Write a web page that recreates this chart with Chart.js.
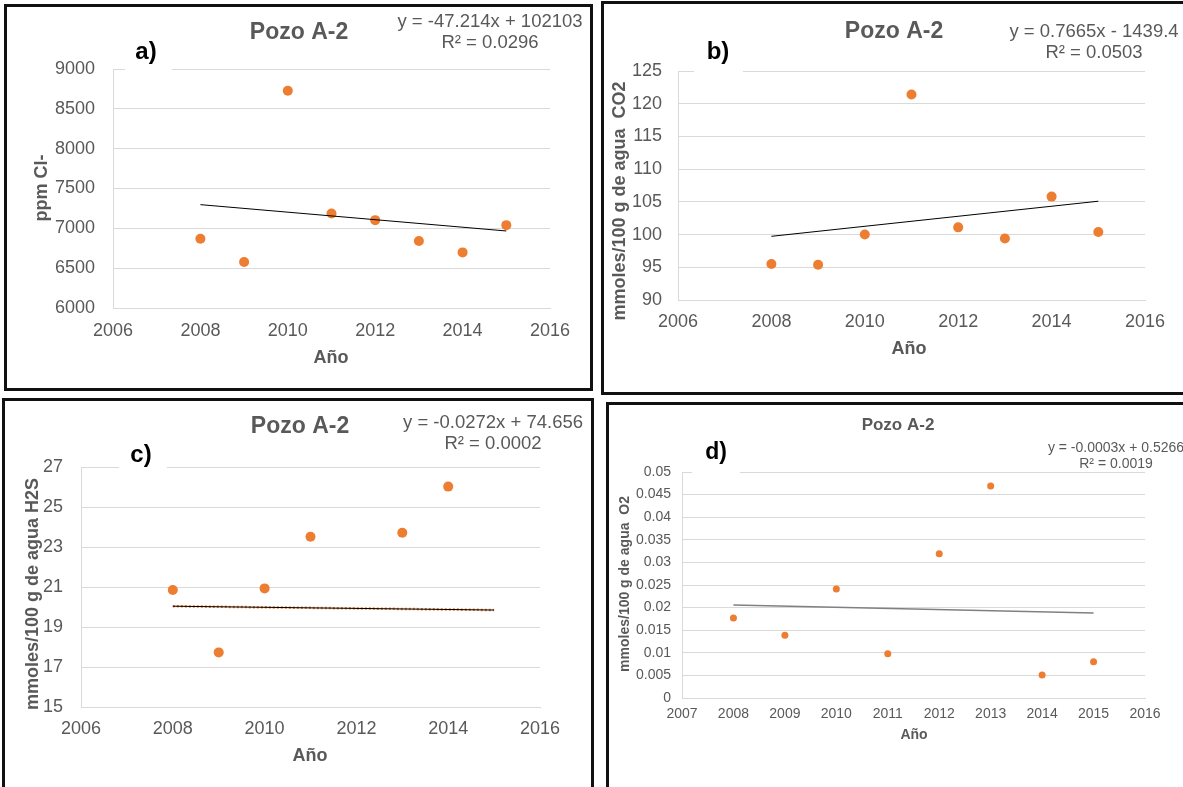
<!DOCTYPE html>
<html>
<head>
<meta charset="utf-8">
<script src="https://cdn.jsdelivr.net/npm/chart.js@4.4.1/dist/chart.umd.min.js"></script>
<style>
  html, body { margin: 0; padding: 0; background: #fff; }
  body { width: 1183px; height: 787px; position: relative; overflow: hidden; }
  .frame { position: absolute; border: 3px solid #111; }
  canvas { position: absolute; }
</style>
</head>
<body>
<div class="frame" style="left:4px;top:4px;width:583px;height:381px"></div>
<div class="frame" style="left:601px;top:1px;width:600px;height:388px"></div>
<div class="frame" style="left:2px;top:398px;width:586px;height:400px"></div>
<div class="frame" style="left:606px;top:402px;width:600px;height:400px"></div>
<canvas id="chartA"></canvas>
<canvas id="chartB"></canvas>
<canvas id="chartC"></canvas>
<canvas id="chartD"></canvas>
<script>
// Pozo A-2 yearly chemistry, one scatter per parameter with its linear trend
var years = [2008, 2009, 2010, 2011, 2012, 2013, 2014, 2015];
var chloride = [6870, 6577, 8728, 7187, 7103, 6840, 6698, 7040];
var co2 = [95.5, 95.4, 100.0, 121.4, 101.1, 99.4, 105.8, 100.4];
var h2sYears = [2008, 2009, 2010, 2011, 2013, 2014];
var h2s = [20.85, 17.73, 20.93, 23.51, 23.71, 26.02];
var o2 = [0.0177, 0.0139, 0.0241, 0.0098, 0.0319, 0.0469, 0.0051, 0.0080];

// trendline coefficients and the years they span
var trendSlope = [-47.214, 0.7665, -0.0272, -0.000252];
var trendIntercept = [102103, -1439.4, 74.656, 0.5266];
var trendFrom = [2008, 2008, 2008, 2008];
var trendTo = [2015, 2015, 2015, 2015];
var equations = ['y = -47.214x + 102103', 'y = 0.7665x - 1439.4', 'y = -0.0272x + 74.656', 'y = -0.0003x + 0.5266'];
var rSquared = ['R² = 0.0296', 'R² = 0.0503', 'R² = 0.0002', 'R² = 0.0019'];

var chartTitle = 'Pozo A-2';
var xTitle = 'Año';
var yTitles = ['ppm Cl-', 'mmoles/100 g de agua  CO2', 'mmoles/100 g de agua H2S', 'mmoles/100 g de agua  O2'];
var letters = ['a)', 'b)', 'c)', 'd)'];

var xMin = [2006, 2006, 2006, 2007];
var xMax = [2016, 2016, 2016, 2016];
var xStep = [2, 2, 2, 1];
var yMin = [6000, 90, 15, 0];
var yMax = [9000, 125, 27, 0.05];
var yStep = [500, 5, 2, 0.005];

var xs = [years, years, h2sYears, years];
var ys = [chloride, co2, h2s, o2];

// page positions: canvas box, plot area and text anchors
var panels = [
  { id: 'chartA', canvas: [7, 7, 583, 381], plot: [113, 69, 550, 308],
    title: [299, 33], letter: [146, 52], blank: [125, 38, 47, 33], eq: [490, 22, 43],
    yTitle: [42, 188], xTitle: [331, 358], yPad: 18, xPad: 12,
    tick: 18, titleSize: 23, eqSize: 18.5, axisSize: 18, letterSize: 24, radius: 5, trendColor: '#000', trendWidth: 1 },
  { id: 'chartB', canvas: [604, 4, 579, 388], plot: [678, 71, 1145, 300],
    title: [894, 32], letter: [718, 52], blank: [694, 38, 49, 35], eq: [1094, 32, 53],
    yTitle: [620, 201], xTitle: [909, 349], yPad: 16, xPad: 11,
    tick: 18, titleSize: 23, eqSize: 18.5, axisSize: 18, letterSize: 24, radius: 5, trendColor: '#000', trendWidth: 1 },
  { id: 'chartC', canvas: [5, 401, 586, 386], plot: [81, 467, 540, 707],
    title: [300, 427], letter: [141, 455], blank: [119, 440, 48, 29], eq: [493, 423, 444],
    yTitle: [33, 594], xTitle: [310, 756], yPad: 18, xPad: 11,
    tick: 18, titleSize: 23, eqSize: 18.5, axisSize: 18, letterSize: 24, radius: 5, trendColor: '#000', trendWidth: 1, dotted: true },
  { id: 'chartD', canvas: [609, 405, 574, 382], plot: [682, 472, 1145, 698],
    title: [898, 425], letter: [716, 453], blank: [692, 438, 48, 36], eq: [1116, 448, 464],
    yTitle: [625, 584], xTitle: [914, 735], yPad: 11, xPad: 8,
    tick: 14, titleSize: 17, eqSize: 14, axisSize: 14, letterSize: 23, radius: 3.5, trendColor: '#808080', trendWidth: 1.5 }
];

var family = '"Liberation Sans", Arial, sans-serif';
var gray = '#595959';
var orange = '#ED7D31';
var gridColor = '#d9d9d9';

Chart.defaults.font.family = family;

function makeNotes(i) {
  var p = panels[i];
  var ox = p.canvas[0], oy = p.canvas[1];
  return {
    id: 'notes' + i,
    afterDraw: function(chart) {
      var ctx = chart.ctx;
      ctx.save();
      ctx.textAlign = 'center';
      ctx.textBaseline = 'middle';
      ctx.fillStyle = gray;
      ctx.font = 'bold ' + p.titleSize + 'px ' + family;
      ctx.fillText(chartTitle, p.title[0] - ox, p.title[1] - oy);
      ctx.font = p.eqSize + 'px ' + family;
      ctx.fillText(equations[i], p.eq[0] - ox, p.eq[1] - oy);
      ctx.fillText(rSquared[i], p.eq[0] - ox, p.eq[2] - oy);
      ctx.font = 'bold ' + p.axisSize + 'px ' + family;
      ctx.fillText(xTitle, p.xTitle[0] - ox, p.xTitle[1] - oy);
      ctx.save();
      ctx.translate(p.yTitle[0] - ox, p.yTitle[1] - oy);
      ctx.rotate(-Math.PI / 2);
      ctx.fillText(yTitles[i], 0, 0);
      ctx.restore();
      // the letter sits on a white box that hides the top gridline
      ctx.fillStyle = '#fff';
      ctx.fillRect(p.blank[0] - ox, p.blank[1] - oy, p.blank[2], p.blank[3]);
      ctx.fillStyle = '#000';
      ctx.font = 'bold ' + p.letterSize + 'px ' + family;
      ctx.fillText(letters[i], p.letter[0] - ox, p.letter[1] - oy);
      ctx.restore();
    }
  };
}

function drawPanel(i) {
  var p = panels[i];
  var canvas = document.getElementById(p.id);
  var ox = p.canvas[0], oy = p.canvas[1], cw = p.canvas[2], ch = p.canvas[3];
  canvas.width = cw;
  canvas.height = ch;
  canvas.style.left = ox + 'px';
  canvas.style.top = oy + 'px';

  var points = [];
  for (var k = 0; k < xs[i].length; k++) {
    points.push({ x: xs[i][k], y: ys[i][k] });
  }
  var trend = [
    { x: trendFrom[i], y: trendSlope[i] * trendFrom[i] + trendIntercept[i] },
    { x: trendTo[i], y: trendSlope[i] * trendTo[i] + trendIntercept[i] }
  ];

  var datasets = [
    { data: trend, showLine: true, pointRadius: 0, borderColor: p.trendColor, borderWidth: p.trendWidth, fill: false, order: 0 },
    { data: points, pointRadius: p.radius, pointHoverRadius: p.radius, backgroundColor: orange, borderWidth: 0, order: 2 }
  ];
  if (p.dotted) {
    datasets.push({ data: trend, showLine: true, pointRadius: 0, borderColor: orange, borderWidth: 2.5, borderDash: [2, 2], fill: false, order: 1 });
  }

  var yLabel = function(v) { return String(+Number(v).toFixed(3)); };

  new Chart(canvas, {
    type: 'scatter',
    data: { datasets: datasets },
    options: {
      responsive: false,
      devicePixelRatio: 1,
      animation: false,
      events: [],
      layout: { padding: { left: 0, top: p.plot[1] - oy, right: ox + cw - p.plot[2], bottom: 0 } },
      plugins: { legend: { display: false }, tooltip: { enabled: false } },
      scales: {
        x: {
          type: 'linear', min: xMin[i], max: xMax[i],
          grid: { display: false, drawTicks: false },
          border: { display: true, color: gridColor, width: 1 },
          ticks: { stepSize: xStep[i], autoSkip: false, maxRotation: 0, padding: p.xPad, color: gray,
                   font: { size: p.tick }, callback: function(v) { return String(v); } },
          afterFit: function(s) { s.height = oy + ch - p.plot[3]; }
        },
        y: {
          type: 'linear', min: yMin[i], max: yMax[i],
          grid: { color: gridColor, lineWidth: 1, drawTicks: false },
          border: { display: true, color: gridColor, width: 1 },
          ticks: { stepSize: yStep[i], autoSkip: false, padding: p.yPad, color: gray,
                   font: { size: p.tick }, callback: yLabel },
          afterFit: function(s) { s.width = p.plot[0] - ox; }
        }
      }
    },
    plugins: [makeNotes(i)]
  });
}

for (var i = 0; i < panels.length; i++) {
  drawPanel(i);
}
</script>
</body>
</html>
